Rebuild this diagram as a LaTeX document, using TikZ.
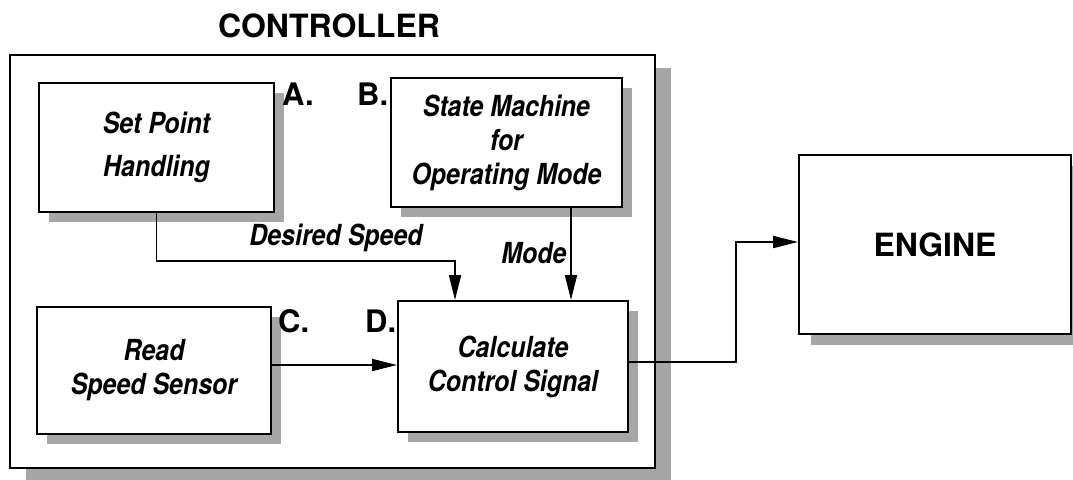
\documentclass[tikz,border=0pt]{standalone}
\usepackage{fontspec}
\newfontfamily\hv{TeX Gyre Heros}
\newfontfamily\hvn[FakeStretch=0.86]{TeX Gyre Heros}
\usetikzlibrary{arrows.meta,shadows}
\begin{document}
\begin{tikzpicture}[x=1pt,y=1pt,
  boxshadow/.style={drop shadow={shadow xshift=10pt,shadow yshift=-10pt,fill=black!35,opacity=1}},
  block/.style={draw=black,line width=2pt,fill=white,inner sep=0pt,align=center,
    font=\hvn\bfseries\itshape\fontsize{29}{34}\selectfont,boxshadow},
  tag/.style={font=\hv\bfseries\fontsize{31}{31}\selectfont,anchor=base west,inner sep=0pt},
  flow/.style={line width=1.8pt,-{Triangle[length=25pt,width=12pt]}},
  lab/.style={font=\hvn\bfseries\itshape\fontsize{29}{29}\selectfont,anchor=base,inner sep=0pt}]
\useasboundingbox (0,0) rectangle (1073,-479);
% controller frame
\node[draw=black,line width=2pt,fill=white,minimum width=645pt,minimum height=413pt,inner sep=0pt,
  drop shadow={shadow xshift=16pt,shadow yshift=-13pt,fill=black!35,opacity=1}] (frame) at (332.5,-261.5) {};
\node[font=\hv\bfseries\fontsize{32}{32}\selectfont,anchor=base,inner sep=0pt] (title) at (329,-37) {CONTROLLER};
% blocks
\node[block,minimum width=235pt,minimum height=129pt] (A) at (156.5,-147.5) {Set Point\\[9pt]Handling};
\node[block,minimum width=231pt,minimum height=129pt] (B) at (506.5,-142.5) {State Machine\\for\\Operating Mode};
\node[block,minimum width=234pt,minimum height=127pt] (C) at (154,-370.5) {Read\\Speed Sensor};
\node[block,minimum width=230pt,minimum height=131pt] (D) at (513,-366.5) {Calculate\\Control Signal};
\node[draw=black,line width=2pt,fill=white,minimum width=272pt,minimum height=179pt,inner sep=0pt,
  font=\hv\bfseries\fontsize{32}{32}\selectfont,
  drop shadow={shadow xshift=12pt,shadow yshift=-11pt,fill=black!35,opacity=1}] (E) at (935,-244.5) {ENGINE};
% tags
\node[tag] (la) at (282,-105) {A.};
\node[tag] (lb) at (357,-105) {B.};
\node[tag] (lc) at (278,-332) {C.};
\node[tag] (ld) at (365,-332) {D.};
% connector labels
\node[lab] (ds) at (336,-245) {Desired Speed};
\node[lab] (md) at (534,-263) {Mode};
% helper coordinates
\coordinate (dsx) at (455,0);
\coordinate (dsy) at (0,-261);
\coordinate (mx) at (571,0);
\coordinate (cy) at (0,-365);
\coordinate (ey) at (0,-362);
\coordinate (ex) at (736,0);
\coordinate (gy) at (0,-242);
% connectors
\draw[flow] (A.south) |- (dsy -| dsx) -- (D.north -| dsx);
\draw[flow] (B.south -| mx) -- (D.north -| mx);
\draw[flow] (C.east |- cy) -- (D.west |- cy);
\draw[flow] (D.east |- ey) -| (ex |- gy) -- (E.west |- gy);
\end{tikzpicture}
\end{document}
